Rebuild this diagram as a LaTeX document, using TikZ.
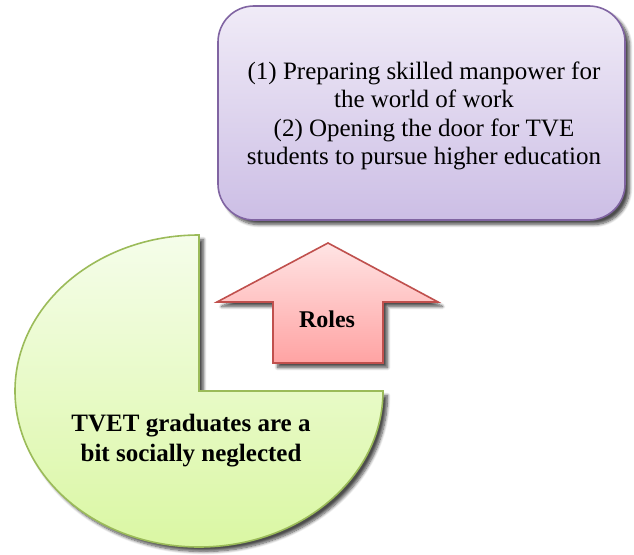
\documentclass[tikz,border=0pt]{standalone}
\usepackage{fontspec}
\setmainfont{Liberation Serif}
\usetikzlibrary{shadows.blur}

\definecolor{boxTop}{RGB}{240,235,247}
\definecolor{boxBot}{RGB}{204,190,229}
\definecolor{boxLine}{RGB}{128,100,162}
\definecolor{pieTop}{RGB}{245,253,234}
\definecolor{pieBot}{RGB}{218,247,163}
\definecolor{pieLine}{RGB}{155,187,89}
\definecolor{arrTop}{RGB}{255,228,228}
\definecolor{arrBot}{RGB}{255,163,163}
\definecolor{arrLine}{RGB}{192,80,77}

\tikzset{
  softshadow/.style={blur shadow={shadow xshift=4.5pt, shadow yshift=-4.5pt,
      shadow opacity=70, shadow blur radius=3pt, shadow blur steps=8}},
  rolebox/.style={draw=boxLine, line width=1.6pt, top color=boxTop,
      bottom color=boxBot, rounded corners=36pt, softshadow},
  piepart/.style={draw=pieLine, line width=1.6pt, top color=pieTop,
      bottom color=pieBot, softshadow},
  uparrow/.style={draw=arrLine, line width=1.6pt, top color=arrTop,
      bottom color=arrBot, line join=miter, softshadow},
  bodytext/.style={align=center, text=black,
      font=\fontsize{25}{28.5}\selectfont},
  boldtext/.style={align=center, text=black,
      font=\fontsize{25}{30}\selectfont\bfseries},
}

\begin{document}
\begin{tikzpicture}[x=1pt, y=-1pt]
  \useasboundingbox (0,0) rectangle (634,554);

  % purple box listing the two roles
  \path[rolebox] (218,6) rectangle (625,220);
  \node[bodytext] (roleslist) at (424,116)
    {(1) Preparing skilled manpower for\\
     the world of work\\
     (2) Opening the door for TVE\\
     students to pursue higher education};

  % three-quarter pie
  \path[piepart] (199,391) -- (383,391)
    arc[start angle=0, end angle=270, x radius=184, y radius=156] -- cycle;
  \node[boldtext] (neglect) at (191,441)
    {TVET graduates are a\\ bit socially neglected};

  % block arrow pointing up towards the box
  \path[uparrow] (328,243) -- (438,302) -- (383,302) -- (383,363)
    -- (273,363) -- (273,302) -- (217,302) -- cycle;
  \node[boldtext, font=\fontsize{24}{28}\selectfont\bfseries] (roles) at (327,319) {Roles};
\end{tikzpicture}
\end{document}
